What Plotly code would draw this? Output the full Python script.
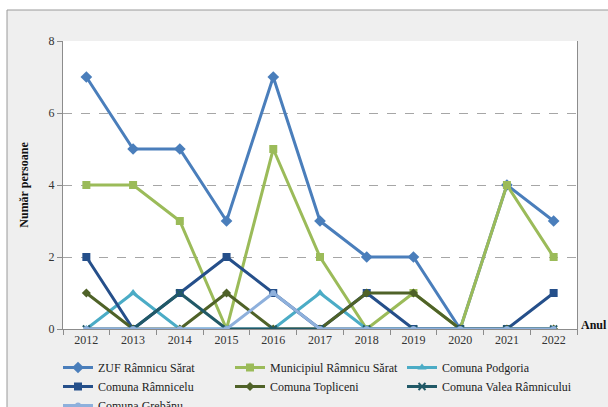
import plotly.graph_objects as go

years = ["2012", "2013", "2014", "2015", "2016", "2017", "2018", "2019", "2020", "2021", "2022"]
zuf = [7, 5, 5, 3, 7, 3, 2, 2, 0, 4, 3]
municipiul = [4, 4, 3, 0, 5, 2, 0, 1, 0, 4, 2]
podgoria = [0, 1, 0, 0, 0, 1, 0, 0, 0, 0, 0]
ramnicelu = [2, 0, 1, 2, 1, 0, 1, 0, 0, 0, 1]
topliceni = [1, 0, 0, 1, 0, 0, 1, 1, 0, 0, 0]
valea = [0, 0, 1, 0, 0, 0, 0, 0, 0, 0, 0]
grebanu = [0, 0, 0, 0, 1, 0, 0, 0, 0, 0, 0]

series = [
    ("ZUF Râmnicu Sărat", zuf, "#4A7EBB", "diamond", 9),
    ("Municipiul Râmnicu Sărat", municipiul, "#9BBB59", "square", 8),
    ("Comuna Podgoria", podgoria, "#4BACC6", "triangle-up", 8),
    ("Comuna Râmnicelu", ramnicelu, "#254F8A", "square", 8),
    ("Comuna Topliceni", topliceni, "#4F6228", "diamond", 7),
    ("Comuna Valea Râmnicului", valea, "#215967", "x-thin-open", 7),
    ("Comuna Grebănu", grebanu, "#8EB0DC", "circle", 6),
]

FONT = "Liberation Serif"

fig = go.Figure()
for name, vals, color, sym, size in series:
    marker = dict(symbol=sym, size=size, color=color)
    if sym.endswith("open"):
        marker["line"] = dict(color=color, width=2)
    fig.add_trace(go.Scatter(
        x=years, y=vals, name=name, mode="lines+markers",
        line=dict(color=color, width=3), marker=marker,
    ))

W, H = 608, 407
L, R, T, B = 63, 31, 41, 78
LEG_TOP = 353
pw, ph = W - L - R, H - T - B

def px2x(p):
    return (p - L) / pw

def px2y(p):
    return (H - B - p) / ph

fig.update_layout(
    template="none",
    width=W, height=H,
    margin=dict(l=L, r=R, t=T, b=B, pad=0),
    paper_bgcolor="white",
    plot_bgcolor="white",
    font=dict(family=FONT, size=12, color="#222"),
    showlegend=True,
    legend=dict(
        orientation="h", xref="container", yref="container",
        x=58 / W, y=1 - LEG_TOP / H, xanchor="left", yanchor="top",
        entrywidth=127, entrywidthmode="pixels",
        font=dict(family=FONT, size=12, color="#222"),
        bgcolor="rgba(0,0,0,0)", borderwidth=0, tracegroupgap=0, itemwidth=30,
    ),
    xaxis=dict(
        type="category", automargin=False, range=[-0.5, len(years) - 0.5],
        showgrid=False, showline=True, linecolor="#8c8c8c", linewidth=1,
        ticks="outside", tickson="boundaries", ticklen=5, tickcolor="#8c8c8c",
        tickfont=dict(family=FONT, size=12, color="#333"), zeroline=False,
    ),
    yaxis=dict(
        automargin=False, range=[0, 8], tickvals=[0, 2, 4, 6, 8], showgrid=True,
        gridcolor="#a6a6a6", griddash="dash", gridwidth=1, showline=True, mirror=True,
        linecolor="#8c8c8c", linewidth=1, ticks="outside", ticklen=5,
        tickcolor="#8c8c8c", zeroline=False,
        tickfont=dict(family=FONT, size=12, color="#333"),
        title=dict(text="<b>Număr persoane</b>", font=dict(family=FONT, size=12, color="#111"), standoff=17),
    ),
    shapes=[
        dict(type="rect", xref="paper", yref="paper", layer="below",
             x0=px2x(7), x1=px2x(W + 5), y0=px2y(10), y1=px2y(H + 5),
             fillcolor="#efefef", line=dict(color="#9a9a9a", width=1)),
        dict(type="rect", xref="paper", yref="paper", layer="below",
             x0=0, x1=1, y0=0, y1=1, fillcolor="white", line=dict(width=0)),
    ],
    annotations=[
        dict(text="<b>Anul</b>", xref="paper", yref="paper", x=px2x(609), y=px2y(325),
             xanchor="right", yanchor="middle", showarrow=False,
             font=dict(family=FONT, size=12, color="#111")),
    ],
)

# remove the default page margin so the figure sits at the window's top-left corner
fig.write_html("out.html", config={"displayModeBar": False},
               post_script="document.body.style.margin='0';")
